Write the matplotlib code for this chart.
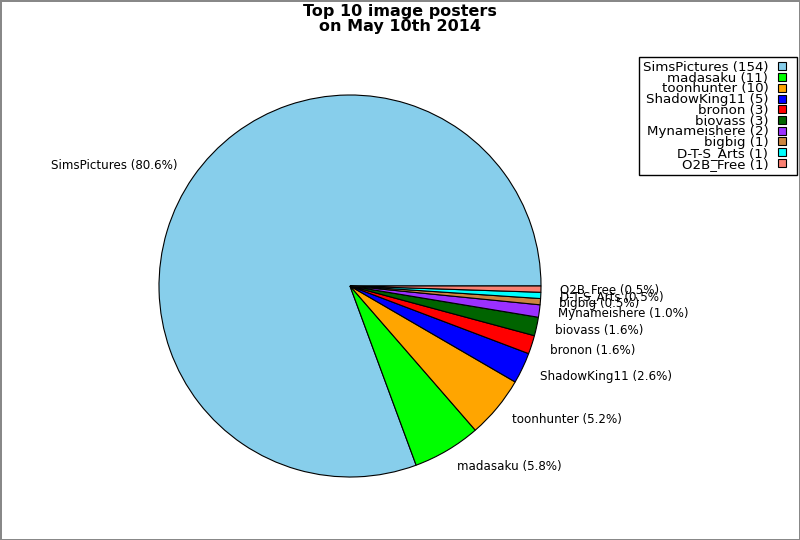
import matplotlib
matplotlib.use("Agg")
import matplotlib.pyplot as plt
from matplotlib.patches import Rectangle
from matplotlib.legend_handler import HandlerPatch

# Poster counts for May 10th 2014
names = ["SimsPictures", "madasaku", "toonhunter", "ShadowKing11", "bronon",
         "biovass", "Mynameishere", "bigbig", "D-T-S_Arts", "O2B_Free"]
counts = [154, 11, 10, 5, 3, 3, 2, 1, 1, 1]
colors = ["#87CEEB", "#00FF00", "#FFA500", "#0000FF", "#FF0000",
          "#006400", "#9B30FF", "#CD853F", "#00FFFF", "#FA8072"]

total = sum(counts)
pie_labels = [f"{n} ({c / total * 100:.1f}%)" for n, c in zip(names, counts)]
legend_labels = [f"{n} ({c})" for n, c in zip(names, counts)]

fig = plt.figure(figsize=(8, 5.4), dpi=100)
fig.patch.set_edgecolor("#888888")
fig.patch.set_linewidth(2)

r_w = 382 / 800
r_h = 382 / 540
ax = fig.add_axes([350 / 800 - r_w / 2, 1 - 286 / 540 - r_h / 2, r_w, r_h])
wedges, texts = ax.pie(counts, labels=pie_labels, colors=colors, startangle=0,
                       labeldistance=1.1,
                       wedgeprops={"edgecolor": "black", "linewidth": 0.8},
                       textprops={"fontsize": 8.6})
ax.set_xlim(-1, 1)
ax.set_ylim(-1, 1)
ax.set_aspect("equal")

fig.suptitle("Top 10 image posters\non May 10th 2014", fontsize=11.5,
             fontweight="bold", y=0.993, linespacing=1.0)


# small square on the left of a wider handle box, leaves room on the right
def small_square(legend, orig_handle, xdescent, ydescent, width, height, fontsize):
    side = 0.6 * fontsize
    return Rectangle((-xdescent, -ydescent + (height - side) / 2), side, side)


leg = fig.legend(wedges, legend_labels, loc="upper right",
                 bbox_to_anchor=(797 / 800, 1 - 57 / 540), fontsize=9.6,
                 markerfirst=False, fancybox=False, framealpha=1,
                 labelspacing=-0.17, handlelength=1.15, handleheight=0.6,
                 handletextpad=0.7, borderpad=0.3, borderaxespad=0,
                 handler_map={w: HandlerPatch(patch_func=small_square) for w in wedges})
leg.get_frame().set_edgecolor("black")
for t in leg.get_texts():
    t.set_ha("right")

fig.savefig("out.png", dpi=100, edgecolor=fig.get_edgecolor())
